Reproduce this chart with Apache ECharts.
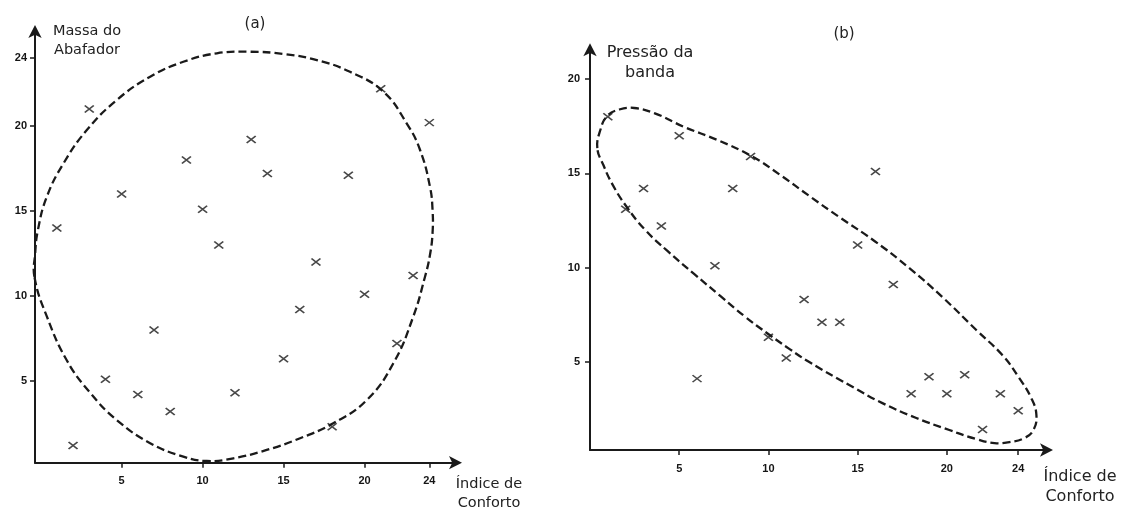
<!DOCTYPE html>
<html>
<head>
<meta charset="utf-8">
<script src="https://cdn.jsdelivr.net/npm/echarts@6/dist/echarts.min.js"></script>
<style>
html,body{margin:0;padding:0;background:#fff;}
#chart{width:1121px;height:510px;}
</style>
</head>
<body>
<div id="chart"></div>
<script>
// Índice de Conforto (subjects 1..24)
const indiceConforto = [1,2,3,4,5,6,7,8,9,10,11,12,13,14,15,16,17,18,19,20,21,22,23,24];
// (a) Massa do Abafador
const massaAbafador = [14, 1.2, 21, 5.1, 16, 4.2, 8, 3.2, 18, 15.1, 13, 4.3, 19.2, 17.2, 6.3, 9.2, 12, 2.3, 17.1, 10.1, 22.2, 7.2, 11.2, 20.2];
// (b) Pressão da banda
const pressaoBanda = [18, 13.1, 14.2, 12.2, 17, 4.1, 10.1, 14.2, 15.9, 6.3, 5.2, 8.3, 7.1, 7.1, 11.2, 15.1, 9.1, 3.3, 4.2, 3.3, 4.3, 1.4, 3.3, 2.4];

// dashed contour (a) (closed loop)
const contourAX = [-0.38, 0.38, 1.62, 3.06, 4.7, 6.76, 8.81, 10.26, 11.9, 13.96, 16.02, 18.07, 20.14, 21.78, 23.0, 23.73, 24.04, 24.2, 24.2, 24.04, 23.43, 22.6, 21.16, 19.1, 17.05, 14.99, 12.93, 10.88, 8.81, 6.76, 4.7, 2.85, 1.41, 0.38, -0.17, -0.34];
const contourAY = [11.1, 8.8, 6.2, 4.3, 2.7, 1.34, 0.55, 0.29, 0.45, 0.94, 1.63, 2.51, 3.88, 6.04, 8.76, 11.12, 12.41, 13.71, 15.06, 16.43, 18.59, 20.16, 22.02, 23.19, 23.88, 24.24, 24.37, 24.28, 23.78, 22.9, 21.53, 19.76, 17.8, 15.84, 13.88, 12.5];

// dashed contour (b) (closed loop)
const contourBX = [0.41, 0.58, 0.97, 1.64, 2.48, 3.6, 5.29, 7.14, 9.04, 10.67, 12.29, 13.97, 15.94, 17.9, 19.75, 21.65, 23.11, 24.06, 24.73, 25.02, 24.85, 24.34, 23.51, 22.67, 21.65, 20.14, 18.29, 16.39, 14.53, 12.29, 11.17, 9.99, 8.65, 7.3, 5.85, 4.34, 3.05, 1.98, 1.25, 0.75];
const contourBY = [16.34, 17.3, 18.05, 18.39, 18.47, 18.2, 17.46, 16.77, 15.92, 14.91, 13.8, 12.68, 11.41, 9.97, 8.43, 6.68, 5.35, 4.13, 3.07, 2.17, 1.37, 0.94, 0.73, 0.68, 0.89, 1.37, 2.01, 2.8, 3.76, 4.98, 5.68, 6.47, 7.42, 8.49, 9.65, 10.88, 12.04, 13.32, 14.43, 15.44];

// tick labels
const ticksAX = [5, 10, 15, 20, 24];
const ticksAY = [5, 10, 15, 20, 24];
const ticksBX = [5, 10, 15, 20, 24];
const ticksBY = [5, 10, 15, 20];

const pairs = (xs, ys) => xs.map((x, i) => [x, ys[i]]);

const INK = '#1a1a1a';
const crossPath = 'path://M0,0L10,8M10,0L0,8';

function axis(min, max, ticks, margin) {
  return {
    type: 'value', min: min, max: max,
    splitLine: {show: false},
    axisLine: {show: true, onZero: false, lineStyle: {color: INK, width: 2},
      symbol: ['none', 'arrow'], symbolSize: [10, 13], symbolOffset: [0, 5]},
    axisTick: {show: true, inside: false, length: 5, customValues: ticks, lineStyle: {color: INK, width: 1.5}},
    axisLabel: {show: true, customValues: ticks, margin: margin, color: '#151515',
      fontFamily: 'Liberation Sans', fontWeight: 'bold', fontSize: 11}
  };
}

function contourSeries(idx, xs, ys) {
  return {
    type: 'custom', xAxisIndex: idx, yAxisIndex: idx, silent: true, clip: false,
    data: [[xs[0], ys[0]]],
    renderItem: function (params, api) {
      const pts = xs.map((x, i) => api.coord([x, ys[i]]));
      return {
        type: 'polygon',
        shape: {points: pts, smooth: 0.45},
        style: {fill: 'none', stroke: INK, lineWidth: 2.3, lineDash: [8, 4]}
      };
    }
  };
}

const chart = echarts.init(document.getElementById('chart'), null, {renderer: 'canvas'});
const nameA = {fontFamily: 'DejaVu Sans', fontSize: 14.5, fill: '#222', align: 'center', lineHeight: 19};
const nameB = {fontFamily: 'DejaVu Sans', fontSize: 16, fill: '#222', align: 'center', lineHeight: 20};

chart.setOption({
  animation: false,
  backgroundColor: '#ffffff',
  grid: [
    {left: 35, top: 30, width: 422, height: 432.7},
    {left: 590, top: 48.3, width: 458, height: 401.7}
  ],
  xAxis: [
    Object.assign(axis(-0.35, 25.71, ticksAX, 13), {gridIndex: 0}),
    Object.assign(axis(0, 25.67, ticksBX, 13), {gridIndex: 1})
  ],
  yAxis: [
    Object.assign(axis(0.19, 25.65, ticksAY, 8), {gridIndex: 0}),
    Object.assign(axis(0.31, 21.64, ticksBY, 10), {gridIndex: 1})
  ],
  graphic: [
    {type: 'text', x: 255, y: 17, style: {text: '(a)', fontFamily: 'DejaVu Sans', fontSize: 15, fill: '#222', align: 'center'}},
    {type: 'text', x: 844, y: 27, style: {text: '(b)', fontFamily: 'DejaVu Sans', fontSize: 15, fill: '#222', align: 'center'}},
    {type: 'text', x: 87, y: 22, style: Object.assign({text: 'Massa do\nAbafador'}, nameA)},
    {type: 'text', x: 650, y: 43, style: Object.assign({text: 'Pressão da\nbanda'}, nameB)},
    {type: 'text', x: 489, y: 475, style: Object.assign({text: 'Índice de\nConforto'}, nameA)},
    {type: 'text', x: 1080, y: 467, style: Object.assign({text: 'Índice de\nConforto'}, nameB)}
  ],
  series: [
    contourSeries(0, contourAX, contourAY),
    contourSeries(1, contourBX, contourBY),
    {type: 'scatter', xAxisIndex: 0, yAxisIndex: 0, data: pairs(indiceConforto, massaAbafador),
      symbol: crossPath, symbolSize: [9, 7],
      itemStyle: {color: 'rgba(0,0,0,0)', borderColor: INK, borderWidth: 1.6}},
    {type: 'scatter', xAxisIndex: 1, yAxisIndex: 1, data: pairs(indiceConforto, pressaoBanda),
      symbol: crossPath, symbolSize: [9, 7],
      itemStyle: {color: 'rgba(0,0,0,0)', borderColor: INK, borderWidth: 1.6}}
  ]
});
</script>
</body>
</html>
